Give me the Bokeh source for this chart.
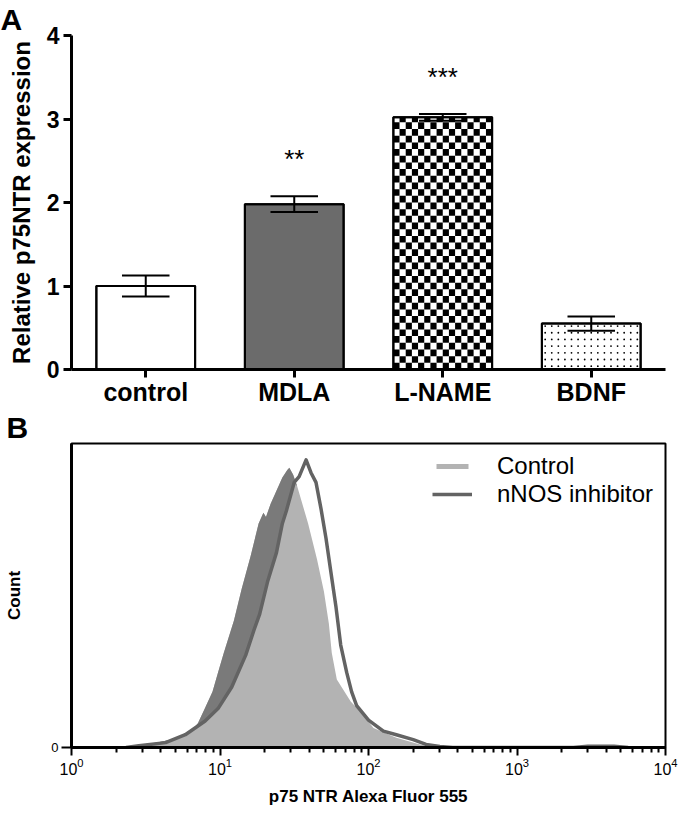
import math
from bokeh.plotting import figure
from bokeh.layouts import column
from bokeh.models import Range1d, FixedTicker, Legend, LegendItem, LogTickFormatter
from bokeh.embed import file_html
from bokeh.resources import INLINE
from bokeh.core.properties import value

FONT = "Liberation Sans"

# ---------------- Panel A data ----------------
categories = ["control", "MDLA", "L-NAME", "BDNF"]
means = [1.00, 1.98, 3.02, 0.55]
sems = [0.125, 0.095, 0.04, 0.085]
stars = ["", "**", "***", ""]
patterns = ["none", "solid", "checker", "dots"]
fills = ["white", "#6b6b6b", "white", "white"]
y_ticks_a = [0, 1, 2, 3, 4]

# ---------------- Panel B data ----------------
ctrl_x = [2.1, 2.5, 3.7, 5.4, 6.3, 7.1, 7.9, 8.9, 9.7, 10.6, 12.4, 14.0, 16.1, 18.2, 19.6,
          20.4, 21.9, 26.3, 28.4, 29.3, 31.1, 33.1, 39.2, 45.0, 50.1, 54.1, 56.6, 61.2,
          75.9, 92.7, 108, 154, 222, 259, 316]
ctrl_y = [0.0, 0.6, 1.6, 3.2, 4.8, 8.0, 12.8, 18.3, 24.7, 31.1, 41.7, 52.2, 63.1, 73.7, 77.2,
          75.8, 80.1, 88.8, 91.3, 92.0, 89.7, 85.9, 73.7, 61.9, 51.3, 40.7, 31.1, 22.4,
          15.1, 10.6, 6.4, 3.2, 1.0, 0.3, 0.0]
nnos_x = [2.33, 2.84, 4.30, 5.84, 7.94, 9.70, 12.0, 14.9, 16.9, 18.5, 20.9, 24.0, 26.3, 28.0,
          31.6, 34.1, 38.0, 41.0, 44.3, 47.9, 51.7, 55.8, 60.3, 65.0, 71.3, 77.0, 83.2, 100,
          126, 154, 200, 244, 302, 369, 2400, 3000, 4500, 5600]
nnos_y = [0.0, 0.6, 1.6, 4.2, 8.7, 12.8, 19.9, 30.4, 38.5, 43.9, 54.5, 64.1, 73.7, 77.9,
          87.2, 89.1, 94.6, 90.4, 87.2, 78.5, 68.9, 57.7, 46.5, 33.7, 24.7, 18.3, 13.8, 9.0,
          5.4, 4.2, 2.6, 1.0, 0.3, 0.0, 0.0, 0.4, 0.4, 0.0]
cross_x = 33.5  # where the two histograms cross on the rising side
x_ticks_b = [1, 10, 100, 1000, 10000]
series_b = ["Control", "nNOS inhibitor"]


def panel_title(p, letter, left_border):
    p.title.text = letter
    p.title.text_font = FONT
    p.title.text_font_size = "30px"
    p.title.text_font_style = "bold"
    p.title.text_color = "black"
    p.title.align = "left"
    p.title.offset = -left_border
    p.title.standoff = 0


# ================= Panel A =================
pa = figure(width=693, height=408, x_range=Range1d(0, 4), y_range=Range1d(0, 4),
            output_backend="svg", toolbar_location=None,
            min_border_left=71, min_border_right=1, min_border_top=35, min_border_bottom=38)
pa.outline_line_color = None
pa.xgrid.visible = False
pa.ygrid.visible = False
panel_title(pa, "A", 71)

centers = [i + 0.5 for i in range(len(categories))]
bw = 0.665

pa.vbar(x=centers, top=means, bottom=0, width=bw, fill_color=fills,
        line_color="black", line_width=2)

# checker and dot textures built from the bar values
for i, pat in enumerate(patterns):
    left = centers[i] - bw / 2
    if pat == "checker":
        ncols = 16
        cw = bw / ncols
        ch = 0.08
        nrows = math.ceil(means[i] / ch)
        L, R, B, T = [], [], [], []
        for r in range(nrows):
            for c in range(ncols):
                if (r + c) % 2 == 0:
                    L.append(left + c * cw)
                    R.append(left + (c + 1) * cw)
                    B.append(r * ch)
                    T.append(min((r + 1) * ch, means[i]))
        pa.quad(left=L, right=R, bottom=B, top=T, fill_color="black", line_color=None)
    elif pat == "dots":
        ncols = 15
        dx = bw / ncols
        dy = 0.08
        xs, ys = [], []
        r = 0
        while (r + 0.5) * dy < means[i] - 0.02:
            for c in range(ncols):
                xs.append(left + (c + 0.5) * dx)
                ys.append((r + 0.5) * dy)
            r += 1
        pa.scatter(x=xs, y=ys, size=1.8, marker="circle", fill_color="black", line_color=None)

pa.vbar(x=centers, top=means, bottom=0, width=bw, fill_alpha=0,
        line_color="black", line_width=2)

# error bars
lo = [m - s for m, s in zip(means, sems)]
hi = [m + s for m, s in zip(means, sems)]
cap = 0.16
pa.segment(x0=centers, y0=lo, x1=centers, y1=hi, line_color="black", line_width=2)
pa.segment(x0=[c - cap for c in centers], y0=hi, x1=[c + cap for c in centers], y1=hi,
           line_color="black", line_width=2)
pa.segment(x0=[c - cap for c in centers], y0=lo, x1=[c + cap for c in centers], y1=lo,
           line_color="black", line_width=2)

# significance stars
sx = [c for c, s in zip(centers, stars) if s]
sy = [h + 0.44 for h, s in zip(hi, stars) if s]
st = [s for s in stars if s]
pa.text(x=sx, y=sy, text=st, text_font=value(FONT), text_font_size="26px",
        text_align="center", text_baseline="alphabetic", text_color="black")

ya = pa.yaxis[0]
ya.ticker = FixedTicker(ticks=y_ticks_a, minor_ticks=[])
ya.axis_line_width = 3
ya.major_tick_line_width = 3
ya.major_tick_out = 8
ya.major_tick_in = 0
ya.minor_tick_line_color = None
ya.major_label_text_font = FONT
ya.major_label_text_font_size = "23px"
ya.major_label_text_font_style = "bold"
ya.major_label_text_color = "black"
ya.major_label_standoff = 4
ya.axis_label = "Relative p75NTR expression"
ya.axis_label_text_font = FONT
ya.axis_label_text_font_size = "24px"
ya.axis_label_text_font_style = "bold"
ya.axis_label_text_color = "black"
ya.axis_label_standoff = 9

xa = pa.xaxis[0]
xa.ticker = FixedTicker(ticks=centers, minor_ticks=[])
xa.major_label_overrides = {c: n for c, n in zip(centers, categories)}
xa.axis_line_width = 3
xa.major_tick_line_width = 3
xa.major_tick_out = 8
xa.major_tick_in = 0
xa.minor_tick_line_color = None
xa.major_label_text_font = FONT
xa.major_label_text_font_size = "25px"
xa.major_label_text_font_style = "bold"
xa.major_label_text_color = "black"
xa.major_label_standoff = 0

# ================= Panel B =================
pb = figure(width=693, height=400, x_axis_type="log", x_range=Range1d(1, 1e4),
            y_range=Range1d(0, 100), output_backend="svg", toolbar_location=None,
            min_border_left=65, min_border_right=28, min_border_top=30, min_border_bottom=58)
pb.outline_line_color = "black"
pb.outline_line_width = 2
pb.xgrid.visible = False
pb.ygrid.visible = False
panel_title(pb, "B", 65)

r_c = pb.varea(x=ctrl_x, y1=[0] * len(ctrl_x), y2=ctrl_y, fill_color="#b3b3b3")
dk_x = [x for x in ctrl_x if x <= cross_x] + [x for x in nnos_x if x <= cross_x][::-1]
dk_y = [y for x, y in zip(ctrl_x, ctrl_y) if x <= cross_x] + \
       [y for x, y in zip(nnos_x, nnos_y) if x <= cross_x][::-1]
pb.patch(x=dk_x, y=dk_y, fill_color="#7a7a7a", line_color=None)
r_n = pb.line(x=nnos_x, y=nnos_y, line_color="#636363", line_width=3.5, line_join="round")

legend = Legend(items=[LegendItem(label=series_b[0], renderers=[r_c]),
                       LegendItem(label=series_b[1], renderers=[r_n])],
                location=(361, 239), label_text_font=FONT, label_text_font_size="24px",
                label_text_color="black", glyph_width=40, glyph_height=6, label_height=22,
                label_standoff=25, spacing=-2, padding=4, margin=0,
                border_line_color=None, background_fill_alpha=0)
pb.add_layout(legend)

xb = pb.xaxis[0]
minor_b = [d * k for d in x_ticks_b[:-1] for k in range(2, 10)]
xb.ticker = FixedTicker(ticks=x_ticks_b, minor_ticks=minor_b)
xb.formatter = LogTickFormatter()
xb.axis_line_width = 3
xb.major_tick_line_width = 2
xb.minor_tick_line_width = 2
xb.major_tick_out = 8
xb.major_tick_in = 0
xb.minor_tick_out = 5
xb.minor_tick_in = 0
xb.major_label_text_font = FONT
xb.major_label_text_font_size = "16px"
xb.major_label_text_color = "black"
xb.major_label_standoff = 2
xb.axis_label = "p75 NTR Alexa Fluor 555"
xb.axis_label_text_font = FONT
xb.axis_label_text_font_size = "17px"
xb.axis_label_text_font_style = "bold"
xb.axis_label_text_color = "black"
xb.axis_label_standoff = 9

yb = pb.yaxis[0]
yb.ticker = FixedTicker(ticks=[0], minor_ticks=[])
yb.axis_line_width = 3
yb.major_tick_line_width = 2
yb.major_tick_out = 10
yb.major_tick_in = 0
yb.major_label_text_font = FONT
yb.major_label_text_font_size = "13px"
yb.major_label_text_color = "black"
yb.major_label_standoff = 3
yb.axis_label = "Count"
yb.axis_label_text_font = FONT
yb.axis_label_text_font_size = "17px"
yb.axis_label_text_font_style = "bold"
yb.axis_label_text_color = "black"
yb.axis_label_standoff = 24

layout = column(pa, pb, spacing=0)
open("out.html", "w").write(file_html(layout, INLINE))
